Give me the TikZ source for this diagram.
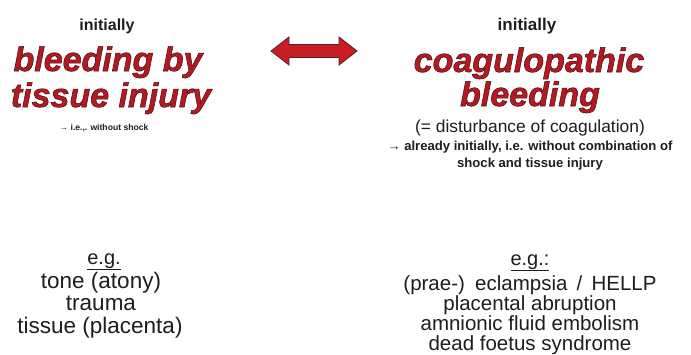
\documentclass[tikz,border=0pt]{standalone}
\usepackage{fontspec}
\setmainfont{Liberation Sans}
\definecolor{redtxt}{RGB}{182,26,32}
\definecolor{darktxt}{RGB}{28,30,34}
\definecolor{arrowred}{RGB}{200,30,35}
\definecolor{arrowedge}{RGB}{85,30,45}
\newcommand{\outlinetext}[1]{\special{pdf:literal 2 Tr 0.55 w 0.30 0.06 0.09 RG}#1\special{pdf:literal 0 Tr}}
\tikzset{
  px/.style={x=1pt,y=-1pt},
  lbl/.style={anchor=base,inner sep=0pt,text=darktxt,font=\fontsize{#1}{#1}\selectfont},
  blbl/.style={anchor=base,inner sep=0pt,text=darktxt,font=\fontsize{#1}{#1}\selectfont\bfseries},
  big/.style={anchor=base,inner sep=0pt,text=redtxt,font=\fontsize{34}{34}\selectfont\bfseries\itshape},
  dblarrow/.style={fill=arrowred,draw=arrowedge,line width=0.8pt,line join=miter},
}
\begin{document}
\begin{tikzpicture}[px]
\useasboundingbox[fill=white] (0,0) rectangle (691,354);
% left column
\node[blbl=16] (linit) at (107,30) {initially};
\node[big] (lbig1) at (108,71) {\outlinetext{bleeding by}};
\node[big] (lbig2) at (111,107) {\outlinetext{tissue injury}};
\node[blbl=8.6] (lnote) at (104,130) {→ i.e.,. without shock};
% double arrow
\path[dblarrow] (271,51) -- (289,37) -- (289,44.5) -- (339,44.5) -- (339,37)
  -- (357,51) -- (339,65) -- (339,57.5) -- (289,57.5) -- (289,65) -- cycle;
% right column
\node[blbl=17] (rinit) at (527,30) {initially};
\node[big] (rbig1) at (529,72) {\outlinetext{coagulopathic}};
\node[big] (rbig2) at (530,106) {\outlinetext{bleeding}};
\node[lbl=17.4] (rdist) at (530,132) {(= disturbance of coagulation)};
\node[blbl=13.1] (rnote1) at (530,150) {→ already initially, i.e. without combination of};
\node[blbl=13.1] (rnote2) at (530,167) {shock and tissue injury};
% bottom left
\node[lbl=20] (leg) at (104,264) {\underline{e.g.}};
\node[lbl=22.5] (l1) at (101,288) {tone (atony)};
\node[lbl=22.5] (l2) at (101,310.5) {trauma};
\node[lbl=22.5] (l3) at (100,333) {tissue (placenta)};
% bottom right
\node[lbl=20] (reg) at (530,265) {\underline{e.g.:}};
\node[lbl=20.5] (r1) at (530,290) {(prae-)\hspace{0.5em}eclampsia\hspace{0.45em}/\hspace{0.45em}HELLP};
\node[lbl=20.5] (r2) at (530,310) {placental abruption};
\node[lbl=20.5] (r3) at (530,330) {amnionic fluid embolism};
\node[lbl=20.5] (r4) at (530,350) {dead foetus syndrome};
\end{tikzpicture}
\end{document}
